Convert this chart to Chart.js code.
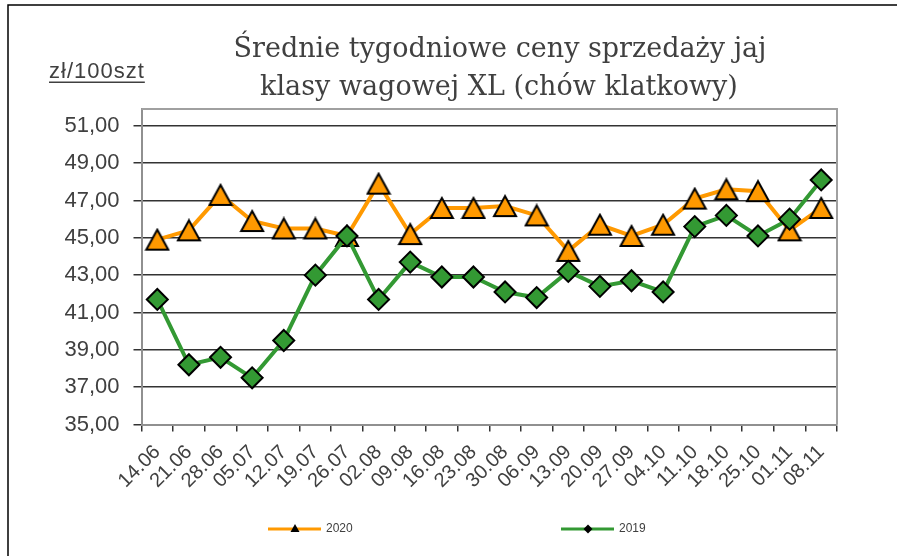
<!DOCTYPE html>
<html>
<head>
<meta charset="utf-8">
<script src="https://cdn.jsdelivr.net/npm/chart.js@4/dist/chart.umd.min.js"></script>
<style>
    html, body { margin: 0; padding: 0; background: #fff; }
</style>
</head>
<body>
<canvas id="chart" width="897" height="556"></canvas>
<script>
// weekly egg prices, XL class, caged hens

const weeks = ['14.06', '21.06', '28.06', '05.07', '12.07', '19.07', '26.07', '02.08', '09.08', '16.08', '23.08',
    '30.08', '06.09', '13.09', '20.09', '27.09', '04.10', '11.10', '18.10', '25.10', '01.11', '08.11'];
const prices2020 = [44.9, 45.4, 47.3, 45.9, 45.5, 45.5, 45.1, 47.9, 45.2, 46.6, 46.6,
    46.7, 46.2, 44.3, 45.7, 45.1, 45.7, 47.1, 47.6, 47.5, 45.4, 46.6];
const prices2019 = [41.7, 38.2, 38.6, 37.5, 39.5, 43.0, 45.1, 41.7, 43.7, 42.9, 42.9,
    42.1, 41.8, 43.2, 42.4, 42.7, 42.1, 45.6, 46.2, 45.1, 46.0, 48.1];
const yTicks = [35, 37, 39, 41, 43, 45, 47, 49, 51];
const titleLines = ['Średnie tygodniowe ceny sprzedaży jaj', 'klasy wagowej XL (chów klatkowy)'];
const unitLabel = 'zł/100szt';

const ORANGE = '#FF9900';
const GREEN = '#339933';
const TEXT = '#404040';

// turns 45 into "45,00"
function formatPrice(v) {
    return v.toFixed(2).replace('.', ',');
}

// excel style triangle: centred on its bounding box, not on its circumcentre
function makeTriangle(fill) {
    const c = document.createElement('canvas');
    c.width = 26;
    c.height = 24;
    const g = c.getContext('2d');
    g.fillStyle = fill;
    g.strokeStyle = '#000';
    g.lineWidth = 2;
    g.lineJoin = 'miter';
    g.beginPath();
    g.moveTo(13, 2);
    g.lineTo(24, 22);
    g.lineTo(2, 22);
    g.closePath();
    g.fill();
    g.stroke();
    return c;
}

// frame, title, unit label, plot border and the little legend
const decorations = {
    id: 'decorations',
    beforeDraw(chart) {
        const ctx = chart.ctx;
        ctx.save();
        ctx.fillStyle = '#fff';
        ctx.fillRect(0, 0, chart.width, chart.height);

        // outer frame (only top and left show in the picture)
        ctx.strokeStyle = '#000';
        ctx.lineWidth = 1.5;
        ctx.beginPath();
        ctx.moveTo(8, chart.height);
        ctx.lineTo(8, 5);
        ctx.lineTo(chart.width, 5);
        ctx.stroke();

        // title
        ctx.fillStyle = TEXT;
        ctx.font = '27px "DejaVu Serif"';
        ctx.textAlign = 'center';
        ctx.textBaseline = 'alphabetic';
        ctx.fillText(titleLines[0], 500, 57);
        ctx.fillText(titleLines[1], 499, 95);

        // unit label, underlined
        ctx.font = '22px "Liberation Sans", Arial';
        ctx.textAlign = 'left';
        ctx.letterSpacing = '1px';
        ctx.fillText(unitLabel, 49, 78);
        const w = ctx.measureText(unitLabel).width;
        ctx.fillRect(49, 81.5, w, 1.5);
        ctx.restore();
    },
    afterDatasetsDraw(chart) {
        // grey border on top and right of the plot
        const a = chart.chartArea;
        const ctx = chart.ctx;
        ctx.save();
        ctx.strokeStyle = '#a0a0a0';
        ctx.lineWidth = 2;
        ctx.beginPath();
        ctx.moveTo(a.left, a.top);
        ctx.lineTo(a.right, a.top);
        ctx.lineTo(a.right, a.bottom);
        ctx.stroke();
        ctx.restore();
    },
    afterDraw(chart) {
        const ctx = chart.ctx;
        const y = 529;
        const items = [
            { ds: chart.data.datasets[1], x: 268, marker: 'triangle' },
            { ds: chart.data.datasets[0], x: 561, marker: 'diamond' }
        ];
        ctx.save();
        items.forEach(function(item) {
            ctx.strokeStyle = item.ds.borderColor;
            ctx.lineWidth = 3;
            ctx.beginPath();
            ctx.moveTo(item.x, y);
            ctx.lineTo(item.x + 53, y);
            ctx.stroke();

            // small black marker in the middle
            const cx = item.x + 27;
            ctx.fillStyle = '#000';
            ctx.beginPath();
            if (item.marker === 'triangle') {
                ctx.moveTo(cx, y - 5);
                ctx.lineTo(cx + 4.5, y + 3);
                ctx.lineTo(cx - 4.5, y + 3);
            } else {
                ctx.moveTo(cx, y - 4.5);
                ctx.lineTo(cx + 4.5, y);
                ctx.lineTo(cx, y + 4.5);
                ctx.lineTo(cx - 4.5, y);
            }
            ctx.closePath();
            ctx.fill();

            ctx.fillStyle = TEXT;
            ctx.font = '12px "Liberation Sans", Arial';
            ctx.textBaseline = 'middle';
            ctx.fillText(item.ds.label, item.x + 58, y);
        });
        ctx.restore();
    }
};

const ctx = document.getElementById('chart').getContext('2d');
new Chart(ctx, {
    type: 'line',
    data: {
        labels: weeks,
        datasets: [
            {
                label: '2019',
                data: prices2019,
                borderColor: GREEN,
                borderWidth: 4,
                pointStyle: 'rectRot',
                pointRadius: 10.5,
                pointBackgroundColor: GREEN,
                pointBorderColor: '#000',
                pointBorderWidth: 2,
                order: 1
            },
            {
                label: '2020',
                data: prices2020,
                borderColor: ORANGE,
                borderWidth: 4,
                pointStyle: makeTriangle(ORANGE),
                pointRadius: 12,
                order: 2
            }
        ]
    },
    options: {
        responsive: false,
        animation: false,
        layout: {
            autoPadding: false,
            padding: { top: 109, left: 0, right: 60, bottom: 0 }
        },
        plugins: {
            legend: { display: false },
            tooltip: { enabled: false }
        },
        scales: {
            x: {
                offset: true,
                afterFit: function(scale) { scale.height = 131.5; },
                grid: {
                    offset: true,
                    drawOnChartArea: false,
                    tickLength: 7,
                    color: '#333',
                    lineWidth: 1.5
                },
                border: { color: '#909090', width: 2 },
                ticks: {
                    autoSkip: false,
                    minRotation: 45,
                    maxRotation: 45,
                    padding: 9,
                    color: TEXT,
                    font: { family: '"Liberation Sans", Arial', size: 20 }
                }
            },
            y: {
                min: 35,
                max: 51.9,
                afterFit: function(scale) { scale.width = 141.5; },
                afterBuildTicks: function(scale) {
                    scale.ticks = yTicks.map(function(v) { return { value: v }; });
                },
                grid: {
                    color: '#333',
                    lineWidth: 1.5,
                    tickLength: 8
                },
                border: { color: '#909090', width: 2 },
                ticks: {
                    padding: 14,
                    color: TEXT,
                    font: { family: '"Liberation Sans", Arial', size: 22 },
                    callback: function(v) { return formatPrice(v); }
                }
            }
        }
    },
    plugins: [decorations]
});
</script>
</body>
</html>
